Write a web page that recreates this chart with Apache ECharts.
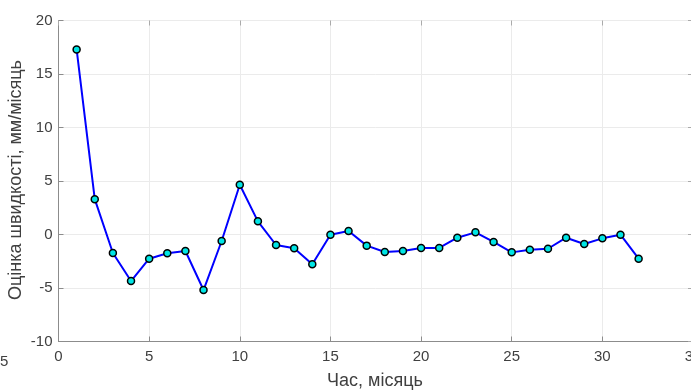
<!DOCTYPE html>
<html>
<head>
<meta charset="utf-8">
<script src="https://cdn.jsdelivr.net/npm/echarts@6/dist/echarts.min.js"></script>
<style>html,body{margin:0;padding:0;background:#fff}#c{width:691px;height:391px}</style>
</head>
<body>
<div id="c"></div>
<script>
const months = [1,2,3,4,5,6,7,8,9,10,11,12,13,14,15,16,17,18,19,20,21,22,23,24,25,26,27,28,29,30,31,32];
const speed = [17.3,3.3,-1.73,-4.35,-2.26,-1.76,-1.54,-5.19,-0.61,4.65,1.23,-0.98,-1.29,-2.79,-0.02,0.33,-1.04,-1.64,-1.54,-1.26,-1.26,-0.3,0.2,-0.7,-1.67,-1.42,-1.33,-0.3,-0.89,-0.36,-0.02,-2.26];
const xTitle = 'Час, місяць';
const yTitle = 'Оцінка швидкості, мм/місяць';

const FONT = '"Liberation Sans", Arial, sans-serif';
const chart = echarts.init(document.getElementById('c'), null, {renderer: 'canvas'});
const gridLine = {show: true, lineStyle: {color: '#ebebeb', width: 1}};
chart.setOption({
  animation: false,
  backgroundColor: '#fff',
  grid: {left: 58.5, right: -2, top: 20.5, bottom: 49.5, containLabel: false, outerBoundsMode: 'none'},
  xAxis: [{
    type: 'value', min: 0, max: 35, interval: 5,
    axisLine: {show: true, onZero: false, lineStyle: {color: '#8c8c8c', width: 1}},
    axisTick: {show: true, inside: true, length: 5, lineStyle: {color: '#8c8c8c'}},
    axisLabel: {color: '#404040', fontSize: 15, fontFamily: FONT, margin: 8},
    splitLine: gridLine
  }, {
    type: 'value', min: 0, max: 35, interval: 5, position: 'top',
    axisLine: {show: false, onZero: false},
    axisTick: {show: true, inside: true, length: 5, lineStyle: {color: '#aaaaaa'}},
    axisLabel: {show: false}, splitLine: {show: false}
  }],
  yAxis: [{
    type: 'value', min: -10, max: 20, interval: 5,
    axisLine: {show: true, onZero: false, lineStyle: {color: '#8c8c8c', width: 1}},
    axisTick: {show: true, inside: true, length: 5, lineStyle: {color: '#8c8c8c'}},
    axisLabel: {color: '#404040', fontSize: 15, fontFamily: FONT, margin: 6},
    splitLine: gridLine
  }, {
    type: 'value', min: -10, max: 20, interval: 5, position: 'right',
    axisLine: {show: false, onZero: false},
    axisTick: {show: true, inside: true, length: 5, lineStyle: {color: '#aaaaaa'}},
    axisLabel: {show: false}, splitLine: {show: false}
  }],
  graphic: [
    {type: 'text', x: 16, y: 180, rotation: Math.PI / 2,
     style: {text: yTitle, fill: '#404040', font: '18px ' + FONT, textAlign: 'center', textVerticalAlign: 'middle'}},
    {type: 'text', x: 375, y: 381,
     style: {text: xTitle, fill: '#404040', font: '18px ' + FONT, textAlign: 'center', textVerticalAlign: 'middle'}},
    {type: 'text', x: 0, y: 362,
     style: {text: '5', fill: '#404040', font: '15px ' + FONT, textAlign: 'left', textVerticalAlign: 'middle'}}
  ],
  series: [{
    type: 'line',
    data: months.map((m, i) => [m, speed[i]]),
    lineStyle: {color: '#0000ff', width: 2},
    symbol: 'circle', symbolSize: 7,
    itemStyle: {color: '#00e5e5', borderColor: '#000', borderWidth: 1.5},
    z: 5
  }]
});
</script>
</body>
</html>
